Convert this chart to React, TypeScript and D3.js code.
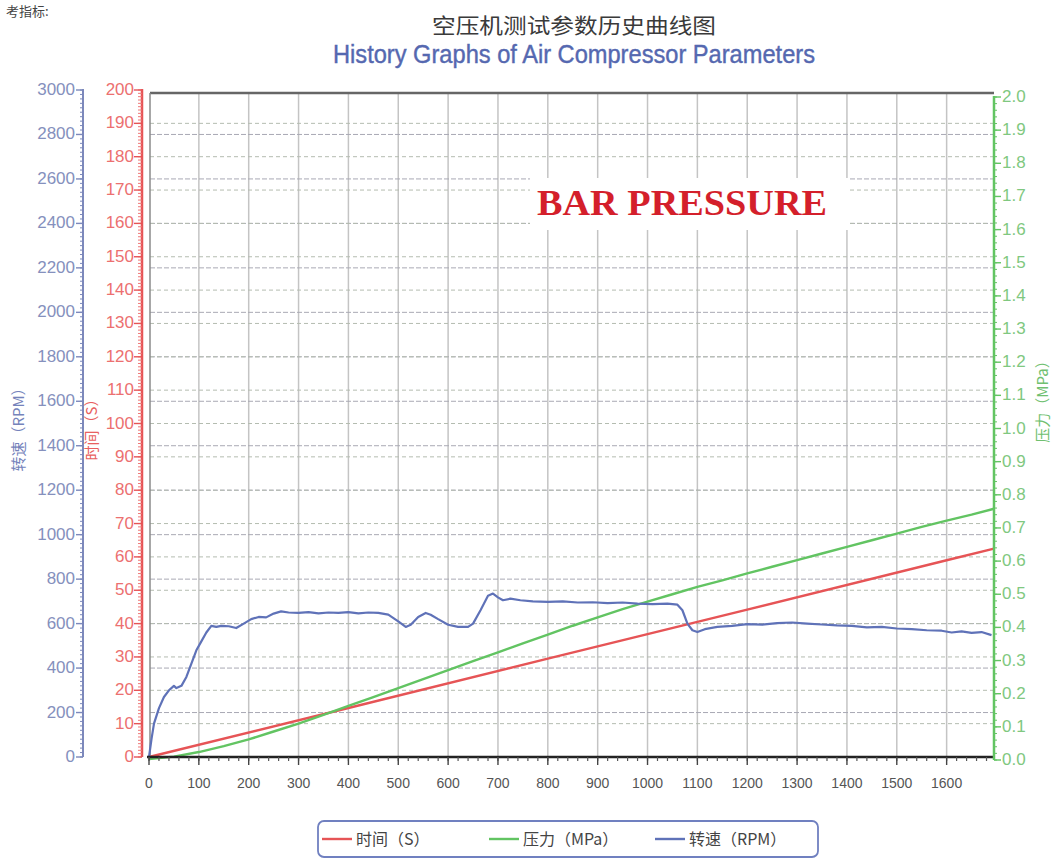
import React from 'react';
import * as d3 from 'd3';

// ---- data ----
const timeX = [0, 400, 800, 1200, 1600, 1695];
const timeVals = [0, 14.7, 29.5, 44.2, 59.0, 62.5];

const pressX = [0, 50, 100, 150, 200, 250, 300, 350, 400, 450, 500, 550, 600, 650, 700, 750, 800, 850, 900, 950, 1000, 1050, 1100, 1150, 1200, 1250, 1300, 1350, 1400, 1450, 1500, 1550, 1600, 1650, 1695];
const pressVals = [0.003, 0.01, 0.024, 0.042, 0.062, 0.086, 0.11, 0.136, 0.163, 0.19, 0.217, 0.244, 0.271, 0.298, 0.325, 0.352, 0.378, 0.405, 0.43, 0.455, 0.478, 0.5, 0.522, 0.542, 0.563, 0.583, 0.603, 0.623, 0.643, 0.663, 0.683, 0.703, 0.722, 0.74, 0.758];

const rpmX = [0, 5, 10, 20, 30, 40, 50, 55, 65, 75, 85, 95, 105, 115, 125, 135, 145, 160, 175, 190, 205, 220, 235, 250, 265, 280, 300, 320, 340, 360, 380, 400, 420, 440, 460, 480, 500, 515, 525, 540, 555, 565, 580, 600, 620, 640, 650, 665, 680, 690, 700, 710, 725, 745, 770, 800, 830, 860, 890, 920, 950, 980, 1010, 1040, 1060, 1070, 1080, 1090, 1100, 1115, 1140, 1170, 1200, 1230, 1260, 1290, 1320, 1350, 1380, 1410, 1440, 1470, 1500, 1530, 1560, 1590, 1610, 1630, 1650, 1670, 1690];
const rpmVals = [0, 80, 150, 220, 270, 300, 320, 310, 320, 360, 420, 480, 520, 560, 590, 585, 590, 588, 580, 600, 620, 630, 628, 645, 655, 650, 648, 652, 646, 650, 648, 652, 646, 650, 648, 640, 610, 585, 595, 630, 648, 640, 620, 595, 585, 585, 600, 660, 725, 735, 718, 705, 712, 705, 700, 698, 700, 695, 696, 692, 695, 690, 688, 690, 685, 660, 600, 570, 562, 575, 585, 590, 598, 595, 602, 605, 600, 596, 592, 590, 583, 585, 578, 575, 570, 568, 560, 565, 558, 562, 548];

const xTicks = [0, 100, 200, 300, 400, 500, 600, 700, 800, 900, 1000, 1100, 1200, 1300, 1400, 1500, 1600];
const rpmTicks = [0, 200, 400, 600, 800, 1000, 1200, 1400, 1600, 1800, 2000, 2200, 2400, 2600, 2800, 3000];
const timeTicks = [0, 10, 20, 30, 40, 50, 60, 70, 80, 90, 100, 110, 120, 130, 140, 150, 160, 170, 180, 190, 200];
const pressTicks = [0, 0.1, 0.2, 0.3, 0.4, 0.5, 0.6, 0.7, 0.8, 0.9, 1.0, 1.1, 1.2, 1.3, 1.4, 1.5, 1.6, 1.7, 1.8, 1.9, 2.0];
const legendLabels = ['时间（S）', '压力（MPa）', '转速（RPM）'];

const RED = '#e65456';
const GREEN = '#62c462';
const BLUE = '#5f72b8';
const NARROW = "'Liberation Sans Narrow', 'Arial Narrow', 'Liberation Sans', sans-serif";

export default function App() {
  const W = 1054, H = 859;
  const left = 150, right = 994, top = 93, bottom = 757;
  const x = d3.scaleLinear().domain([0, 1695]).range([149, right]);
  const yR = d3.scaleLinear().domain([0, 3000]).range([bottom, 90]);
  const yT = d3.scaleLinear().domain([0, 200]).range([bottom, 90]);
  const yP = d3.scaleLinear().domain([0, 2]).range([760, 97]);

  const mk = (xs: number[], vs: number[], ys: d3.ScaleLinear<number, number>) =>
    d3.line<number>().x((_, i) => x(xs[i])).y((v) => ys(v)).curve(d3.curveLinear)(vs) || '';

  const rpmMinor = d3.range(0, 3001, 20);
  const timeMinor = d3.range(0, 201, 1);
  const pressMinor = d3.range(0, 2.0001, 0.02);
  const xMinor = d3.range(0, 1695, 20);

  const blueAxisX = 83, redAxisX = 142;

  return (
    <svg width={W} height={H} style={{ position: 'absolute', left: 0, top: 0, background: '#fff' }}>
      <rect x={0} y={0} width={W} height={H} fill="#fff" />
      {/* small text at top-left */}
      <text x={6} y={16} fontSize={13} fill="#444" fontFamily="'Noto Sans CJK SC', sans-serif">考指标:</text>

      {/* titles */}
      <text x={574} y={33} textAnchor="middle" fontSize={21} fill="#3a3a3a" fontFamily="'Noto Sans CJK SC', sans-serif" textLength={284} lengthAdjust="spacingAndGlyphs">空压机测试参数历史曲线图</text>
      <text x={574} y={63} textAnchor="middle" fontSize={25} fill="#5568b0" fontFamily={NARROW} textLength={482} lengthAdjust="spacingAndGlyphs" stroke="#5568b0" strokeWidth={0.4}>History Graphs of Air Compressor Parameters</text>

      {/* vertical grid */}
      {xTicks.filter((t) => t > 0).map((t) => (
        <line key={'vg' + t} x1={x(t)} x2={x(t)} y1={top} y2={bottom} stroke="#c4c4c4" strokeWidth={1.5} />
      ))}
      {/* horizontal grids */}
      {rpmTicks.filter((t) => t > 0 && t < 3000).map((t) => (
        <line key={'hr' + t} x1={left} x2={right - 1} y1={yR(t)} y2={yR(t)} stroke="#a9a9b4" strokeWidth={1} strokeDasharray="5,2" />
      ))}
      {timeTicks.filter((t) => t > 0 && t < 200).map((t) => (
        <line key={'ht' + t} x1={left} x2={right - 1} y1={yT(t)} y2={yT(t)} stroke="#b4bcb0" strokeWidth={1} strokeDasharray="4,3" />
      ))}

      {/* BAR PRESSURE label */}
      <rect x={530} y={178} width={320} height={52} fill="#fff" />
      <text x={537} y={215} fontSize={35} fontWeight="bold" fill="#d41f2b" fontFamily="'Liberation Serif', 'DejaVu Serif', serif" textLength={290} lengthAdjust="spacingAndGlyphs">BAR PRESSURE</text>

      {/* plot borders */}
      <line x1={left} x2={right} y1={top} y2={top} stroke="#666" strokeWidth={2.5} />
      <line x1={left} x2={left} y1={top} y2={bottom} stroke="#8a8a8a" strokeWidth={1.5} />

      {/* series */}
      <path d={mk(timeX, timeVals, yT)} fill="none" stroke={RED} strokeWidth={2.4} />
      <path d={mk(pressX, pressVals, yP)} fill="none" stroke={GREEN} strokeWidth={2.4} />
      <path d={mk(rpmX, rpmVals, yR)} fill="none" stroke={BLUE} strokeWidth={2.2} strokeLinejoin="round" />

      {/* x axis */}
      <line x1={147} x2={right + 1} y1={bottom} y2={bottom} stroke="#222" strokeWidth={2.5} />
      {xMinor.map((t) => (
        <line key={'xm' + t} x1={x(t)} x2={x(t)} y1={bottom} y2={bottom + 4} stroke="#555" strokeWidth={1.2} />
      ))}
      {xTicks.map((t) => (
        <g key={'xt' + t}>
          <line x1={x(t)} x2={x(t)} y1={bottom} y2={bottom + 8} stroke="#444" strokeWidth={1.4} />
          <text x={x(t)} y={788} textAnchor="middle" fontSize={14} fill="#555" fontFamily={NARROW}>{t}</text>
        </g>
      ))}

      {/* blue RPM axis */}
      <line x1={blueAxisX} x2={blueAxisX} y1={89} y2={bottom} stroke="#7c88bb" strokeWidth={2} />
      {rpmMinor.map((t) => (
        <line key={'rm' + t} x1={blueAxisX - 3} x2={blueAxisX} y1={yR(t)} y2={yR(t)} stroke="#7c88bb" strokeWidth={1} />
      ))}
      {rpmTicks.map((t) => (
        <g key={'rt' + t}>
          <line x1={blueAxisX - 7} x2={blueAxisX} y1={yR(t)} y2={yR(t)} stroke="#7c88bb" strokeWidth={1.4} />
          <text x={75} y={yR(t) + 5} textAnchor="end" fontSize={17} fill="#8590bd" fontFamily={NARROW}>{t}</text>
        </g>
      ))}
      <text transform={`translate(24,426) rotate(-90)`} textAnchor="middle" fontSize={15} fill="#7583bb" fontFamily="'Noto Sans CJK SC', sans-serif">转速（RPM）</text>

      {/* red time axis */}
      <line x1={redAxisX} x2={redAxisX} y1={89} y2={bottom} stroke={RED} strokeWidth={2.5} />
      {timeMinor.map((t) => (
        <line key={'tm' + t} x1={redAxisX - 4} x2={redAxisX} y1={yT(t)} y2={yT(t)} stroke="#ee7777" strokeWidth={1} />
      ))}
      {timeTicks.map((t) => (
        <g key={'tt' + t}>
          <line x1={redAxisX - 8} x2={redAxisX} y1={yT(t)} y2={yT(t)} stroke={RED} strokeWidth={1.4} />
          <text x={134} y={yT(t) + 5} textAnchor="end" fontSize={17} fill="#ec7070" fontFamily={NARROW}>{t}</text>
        </g>
      ))}
      <text transform={`translate(97,426) rotate(-90)`} textAnchor="middle" fontSize={15} fill="#e86060" fontFamily="'Noto Sans CJK SC', sans-serif">时间（S）</text>

      {/* green pressure axis */}
      <line x1={right} x2={right} y1={96} y2={760} stroke={GREEN} strokeWidth={2.5} />
      {pressMinor.map((t, i) => (
        <line key={'pm' + i} x1={right} x2={right + 3} y1={yP(t)} y2={yP(t)} stroke={GREEN} strokeWidth={1} />
      ))}
      {pressTicks.map((t) => (
        <g key={'pt' + t}>
          <line x1={right} x2={right + 7} y1={yP(t)} y2={yP(t)} stroke={GREEN} strokeWidth={1.4} />
          <text x={1002} y={yP(t) + 5} textAnchor="start" fontSize={17} fill="#80c880" fontFamily={NARROW}>{t.toFixed(1)}</text>
        </g>
      ))}
      <text transform={`translate(1048,398) rotate(-90)`} textAnchor="middle" fontSize={15} fill="#70c070" fontFamily="'Noto Sans CJK SC', sans-serif">压力（MPa）</text>

      {/* legend */}
      <rect x={318} y={821} width={500} height={36} rx={6} fill="#fff" stroke="#7080c0" strokeWidth={1.8} />
      {legendLabels.map((lab, i) => {
        const lx = [322, 489, 655][i];
        const col = [RED, GREEN, BLUE][i];
        return (
          <g key={lab}>
            <line x1={lx} x2={lx + 30} y1={839} y2={839} stroke={col} strokeWidth={2.4} />
            <text x={lx + 34} y={845} fontSize={16} fill="#444" fontFamily="'Noto Sans CJK SC', sans-serif">{lab}</text>
          </g>
        );
      })}
    </svg>
  );
}
